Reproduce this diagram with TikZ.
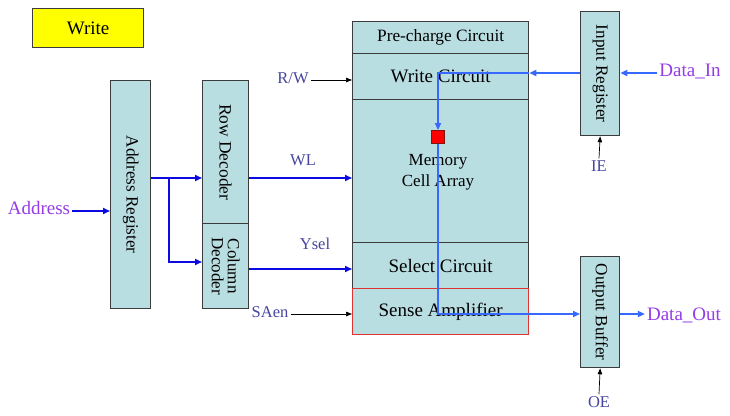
\documentclass[tikz,border=0pt]{standalone}
\usepackage{fontspec}
\setmainfont{Liberation Serif}
\usetikzlibrary{arrows.meta}
\definecolor{boxfill}{RGB}{185,222,226}
\definecolor{boxline}{RGB}{60,60,60}
\definecolor{darkblue}{RGB}{10,10,225}
\definecolor{lightblue}{RGB}{55,105,255}
\definecolor{lblcol}{RGB}{70,70,160}
\definecolor{purp}{RGB}{150,60,230}
\definecolor{ylw}{RGB}{255,255,0}
\tikzset{
  box/.style={draw=boxline, line width=1.3pt, fill=boxfill, inner sep=0pt, anchor=north west, align=center},
  vtext/.style={rotate=-90},
  barrow/.style={draw=darkblue, line width=1.6pt, -{Triangle[length=7pt,width=6pt]}},
  lbarrow/.style={draw=lightblue, line width=1.6pt, -{Triangle[length=7pt,width=6pt]}},
  karrow/.style={draw=black, line width=0.7pt, -{Triangle[length=6pt,width=4.5pt]}},
  sig/.style={text=lblcol, font=\fontsize{16.5}{18}\selectfont, inner sep=2pt},
  ext/.style={text=purp, font=\fontsize{19}{21}\selectfont, inner sep=2pt},
}
\begin{document}
\begin{tikzpicture}[x=1pt,y=-1pt]
\useasboundingbox[fill=white] (0,0) rectangle (730,415);
% title
\node[box, draw=boxline, fill=ylw, minimum width=111pt, minimum height=39pt, font=\fontsize{19}{21}\selectfont] (title) at (32,8) {Write};
% address register
\node[box, minimum width=40pt, minimum height=228pt] (areg) at (110,80) {};
\node[vtext, font=\fontsize{17.2}{19}\selectfont] at (areg.center) {Address Register};
% row decoder
\node[box, minimum width=46pt, minimum height=143pt] (rowd) at (202,80) {};
\node[vtext, font=\fontsize{17.4}{19}\selectfont] at (rowd.center) {Row Decoder};
% column decoder
\node[box, minimum width=46pt, minimum height=85pt] (cold) at (202,223) {};
\node[vtext, font=\fontsize{17}{19}\selectfont, align=center] at (cold.center) {Column\\[-3pt]Decoder};
% memory block
\node[box, minimum width=176pt, minimum height=32pt, font=\fontsize{17.3}{19}\selectfont] (pre) at (352,21) {Pre-charge Circuit};
\node[box, minimum width=176pt, minimum height=46pt, font=\fontsize{19}{21}\selectfont] (wc) at (352,53) {Write Circuit};
\node[box, minimum width=176pt, minimum height=143pt] (mca) at (352,99) {};
\node[font=\fontsize{17}{21}\selectfont, align=center] (mcatxt) at (438,172) {Memory\\Cell Array};
\node[box, minimum width=176pt, minimum height=46pt, font=\fontsize{19}{21}\selectfont] (sel) at (352,242) {Select Circuit};
\node[box, draw={rgb,255:red,225;green,50;blue,50}, minimum width=176pt, minimum height=46pt, font=\fontsize{19}{21}\selectfont] (sa) at (352,288) {Sense Amplifier};
% memory cell
\node[draw={rgb,255:red,130;green,20;blue,20}, line width=0.8pt, fill=red, minimum size=13pt, inner sep=0pt] (cell) at (438,137) {};
% input register and output buffer
\node[box, minimum width=39pt, minimum height=124pt] (inreg) at (580,11) {};
\node[vtext, font=\fontsize{17.2}{19}\selectfont] at (inreg.center) {Input Register};
\node[box, minimum width=39pt, minimum height=111pt] (outb) at (580,256) {};
\node[vtext, font=\fontsize{17.2}{19}\selectfont] at (outb.center) {Output Buffer};
% labels
\node[ext] (addr) at (39,208) {Address};
\node[ext] (din) at (690,72) {Data\_In};
\node[ext] (dout) at (684,315) {Data\_Out};
\node[sig] (rw) at (293,78) {R/W};
\node[sig] (wl) at (303,160) {WL};
\node[sig] (ysel) at (315,244) {Ysel};
\node[sig] (saen) at (270,312) {SAen};
\node[sig] (ie) at (599,166) {IE};
\node[sig] (oe) at (599,402) {OE};
% coordinates
\coordinate (br) at (169,178);
\coordinate (colin) at (202,262);
\coordinate (yrow) at (0,269);
\coordinate (wrow) at (0,73);
\coordinate (rrow) at (0,314);
% left-side connectors
\draw[barrow] (addr.east |- 0,211) -- (areg.west |- 0,211);
\draw[barrow, -] (areg.east |- br) -- (br);
\draw[barrow] (br) -- (rowd.west |- br);
\draw[barrow] (br) |- (colin);
\draw[barrow] (rowd.east |- br) -- (mca.west |- br);
\draw[barrow] (cold.east |- yrow) -- (sel.west |- yrow);
% control arrows
\draw[karrow] (rw.east |- 0,80) -- (wc.west |- 0,80);
\draw[karrow] (saen.east |- 0,314) -- (sa.west |- 0,314);
\draw[karrow] (ie.north) -- (inreg.south);
\draw[karrow] (oe.north) -- (outb.south);
% data path
\draw[lbarrow] (din.west |- wrow) -- (inreg.east |- wrow);
\draw[lbarrow] (inreg.west |- wrow) -- (wc.east |- wrow);
\draw[lbarrow] (wc.east |- wrow) -| (cell.north);
\draw[lbarrow] (cell.south) |- (outb.west |- rrow);
\draw[lbarrow] (outb.east |- rrow) -- (dout.west |- rrow);
\end{tikzpicture}
\end{document}
